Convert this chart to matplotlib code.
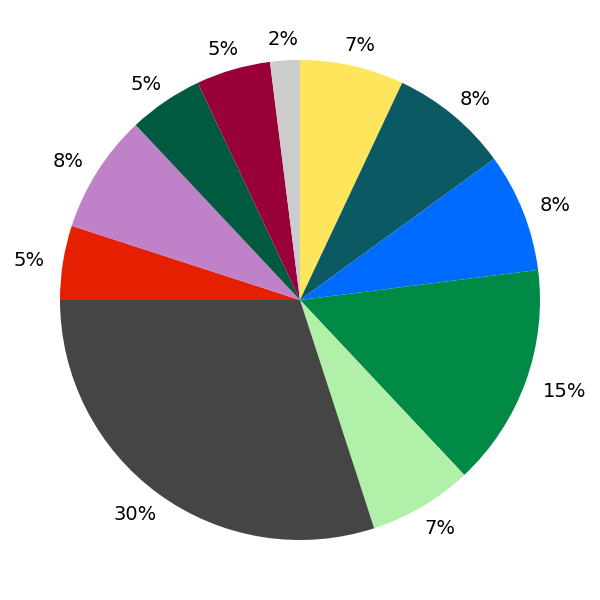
import matplotlib
matplotlib.use("Agg")
import matplotlib.pyplot as plt
import numpy as np

values = [7, 8, 8, 15, 7, 30, 5, 8, 5, 5, 2]
colors = ["#FFE55C", "#0B5A63", "#006CFF", "#008A45", "#B0F0A8", "#454545",
          "#E52000", "#BF82C8", "#005A40", "#99003A", "#CCCCCC"]

fig = plt.figure(figsize=(6, 6), dpi=100)
ax = fig.add_axes([0, 0, 1, 1])
wedges, _ = ax.pie(values, colors=colors, startangle=90, counterclock=False,
                   wedgeprops={"linewidth": 0})
ax.set_xlim(-1.25, 1.25)
ax.set_ylim(-1.25, 1.25)
ax.set_aspect("equal")
ax.axis("off")

px = 240.0  # pixels per data unit (radius 1)
R = 255.0 / px
pad_w = 4.0 / px
half_h = 8.0 / px
shift_y = -2.0 / px
total = float(sum(values))
fig.canvas.draw()
renderer = fig.canvas.get_renderer()
for w, v in zip(wedges, values):
    ang = np.deg2rad((w.theta1 + w.theta2) / 2.0)
    vx, vy = np.cos(ang), np.sin(ang)
    label = "%d%%" % round(100 * v / total)
    t = ax.text(0, 0, label, fontsize=14, ha="center", va="center", color="black")
    bb = t.get_window_extent(renderer)
    half_w = bb.width / 2.0 / px + pad_w
    t.set_position((vx * R + vx * half_w, vy * R + vy * half_h + shift_y))

fig.savefig("out.png", dpi=100)
